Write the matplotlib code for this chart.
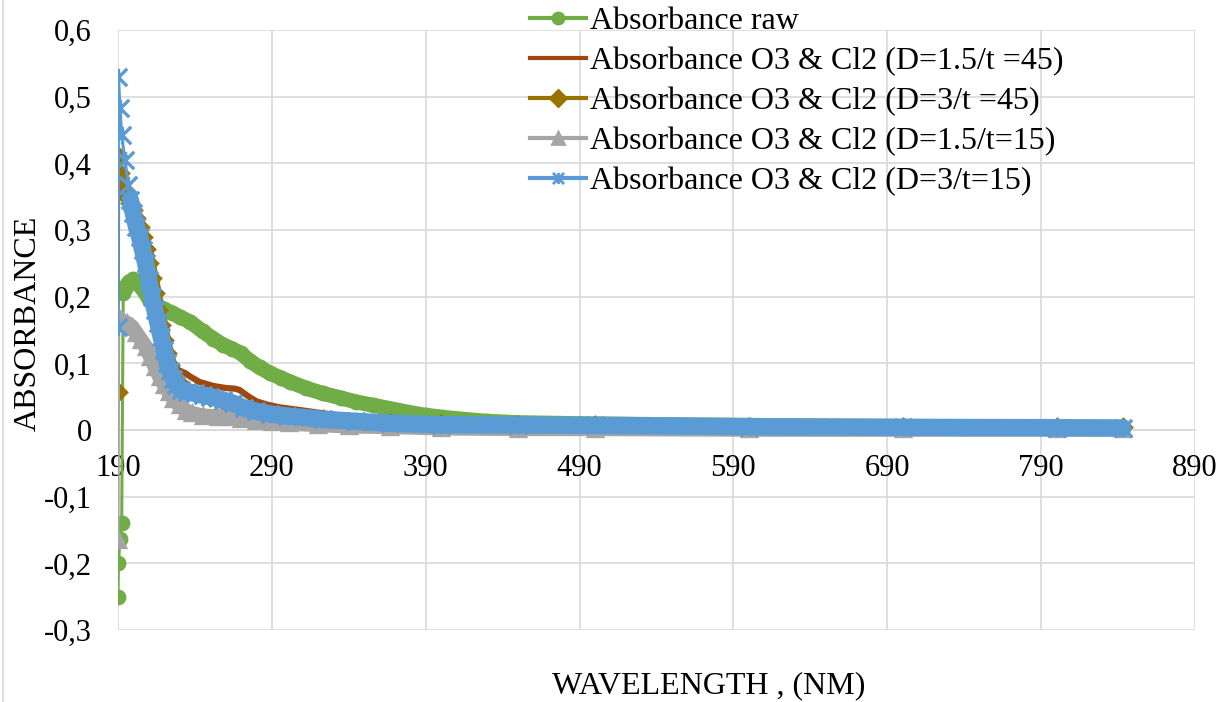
"""
  UV-Vis absorbance spectra, raw vs. O3 & Cl2 treated samples.
"""
import matplotlib
matplotlib.use("Agg")
import matplotlib.pyplot as plt
from matplotlib.lines import Line2D
from matplotlib.path import Path

# Values (wavelength in nm, absorbance)
raw_x = [190, 190.3, 191.3, 192.4, 193.4, 195, 197, 200, 205, 210, 215, 220,
         225, 230, 237, 245, 252, 258, 264, 270, 276, 282, 289, 296, 302, 312,
         323, 335, 345, 356, 367, 380, 390, 410, 430, 450, 490, 550, 600, 650,
         700, 750, 800, 843]
raw_y = [-0.25, -0.20, -0.163, -0.14, 0.205, 0.215, 0.222, 0.226, 0.215, 0.197,
         0.187, 0.181, 0.176, 0.170, 0.162, 0.148, 0.137, 0.128, 0.122, 0.115,
         0.103, 0.094, 0.085, 0.078, 0.072, 0.063, 0.055, 0.048, 0.042, 0.037,
         0.032, 0.026, 0.022, 0.017, 0.013, 0.011, 0.0095, 0.008, 0.007, 0.006,
         0.0055, 0.005, 0.0045, 0.004]

d15_t45_x = [190, 191, 193, 195, 198, 200, 203, 206, 209, 212, 215, 218, 221,
             224, 227, 230, 234, 237, 243, 252, 260, 266, 269, 275, 280, 287,
             295, 308, 320, 334, 350, 367, 400, 450, 500, 600, 700, 800, 843]
d15_t45_y = [0.36, 0.375, 0.365, 0.355, 0.34, 0.33, 0.31, 0.285, 0.255, 0.22,
             0.185, 0.15, 0.12, 0.102, 0.094, 0.089, 0.085, 0.080, 0.072, 0.066,
             0.063, 0.062, 0.060, 0.050, 0.043, 0.038, 0.034, 0.030, 0.026,
             0.022, 0.018, 0.015, 0.011, 0.009, 0.008, 0.006, 0.005, 0.004, 0.004]

d3_t45_x = [190, 190.5, 191.3, 192.3, 194, 196, 198, 200, 202, 204, 206, 208,
            210, 212, 214, 216, 218, 220, 222, 224, 226, 228, 231, 235, 240, 250,
            258, 270, 289, 323, 367, 400, 450, 500, 600, 700, 800, 843]
d3_t45_y = [0.057, 0.41, 0.385, 0.37, 0.36, 0.35, 0.34, 0.33, 0.318, 0.305,
            0.29, 0.272, 0.25, 0.228, 0.205, 0.18, 0.158, 0.135, 0.115, 0.097,
            0.085, 0.075, 0.067, 0.060, 0.056, 0.050, 0.044, 0.033, 0.024, 0.017,
            0.011, 0.009, 0.008, 0.007, 0.005, 0.0045, 0.004, 0.004]

d15_t15_x = [190, 190.5, 193, 196, 199, 202, 205, 208, 211, 214, 217, 220, 223,
             226, 230, 234, 238, 245, 255, 262, 270, 280, 290, 301, 320, 340,
             367, 400, 450, 500, 600, 700, 800, 843]
d15_t15_y = [-0.165, 0.168, 0.163, 0.16, 0.155, 0.145, 0.135, 0.125, 0.11,
             0.095, 0.08, 0.068, 0.057, 0.047, 0.037, 0.029, 0.025, 0.021, 0.020,
             0.019, 0.017, 0.014, 0.012, 0.010, 0.008, 0.006, 0.005, 0.003,
             0.002, 0.002, 0.001, 0.001, 0.001, 0.001]

d3_t15_x = [190, 190.3, 191.3, 192.4, 194.5, 196.7, 198, 200, 202, 204, 206,
            208, 210, 212, 214, 216, 218, 220, 222, 224, 226, 228, 231, 235, 240,
            245, 250, 258, 265, 272, 280, 289, 300, 323, 345, 367, 400, 450, 500,
            600, 700, 800, 843]
d3_t15_y = [0.155, 0.53, 0.483, 0.442, 0.405, 0.368, 0.345, 0.325, 0.305, 0.29,
            0.27, 0.25, 0.225, 0.20, 0.18, 0.16, 0.14, 0.12, 0.10, 0.088, 0.077,
            0.068, 0.060, 0.057, 0.055, 0.052, 0.050, 0.045, 0.040, 0.033, 0.028,
            0.024, 0.021, 0.016, 0.013, 0.010, 0.008, 0.0075, 0.007, 0.005, 0.004,
            0.0035, 0.003]

labels = ["Absorbance raw",
          "Absorbance O3 & Cl2 (D=1.5/t =45)",
          "Absorbance O3 & Cl2 (D=3/t =45)",
          "Absorbance O3 & Cl2 (D=1.5/t=15)",
          "Absorbance O3 & Cl2 (D=3/t=15)"]

x_ticks = [190, 290, 390, 490, 590, 690, 790, 890]
y_ticks = [-0.3, -0.2, -0.1, 0, 0.1, 0.2, 0.3, 0.4, 0.5, 0.6]
y_tick_labels = ["-0,3", "-0,2", "-0,1", "0", "0,1", "0,2", "0,3", "0,4",
                 "0,5", "0,6"]

plt.rcParams["font.family"] = ["Liberation Serif", "DejaVu Serif"]

# Excel-like star marker: an X with a vertical bar
star = Path([(-1, -1), (1, 1), (-1, 1), (1, -1), (0, -1), (0, 1)],
            [Path.MOVETO, Path.LINETO, Path.MOVETO, Path.LINETO,
             Path.MOVETO, Path.LINETO])

fig = plt.figure(figsize=(12.21, 7.02), dpi=100)
ax = fig.add_axes([118 / 1221, 1 - 630 / 702, 1077 / 1221, 600 / 702])

# series: data, colour, marker, marker size, band width, index where band starts
series = [
    (raw_x, raw_y, "#70AD47", "o", 9, 10.8, 4),
    (d15_t45_x, d15_t45_y, "#9E480E", None, 0, 4.5, 0),
    (d3_t45_x, d3_t45_y, "#997300", "D", 8, 10, 7),
    (d15_t15_x, d15_t15_y, "#A5A5A5", "^", 9.5, 10.8, 1),
    (d3_t15_x, d3_t15_y, "#5B9BD5", star, 12.5, 12.5, 6),
]

for i, (xs, ys, col, mk, ms, band, k) in enumerate(series):
    z = 3 + 2 * i
    # dense markers in the original merge into a thick band
    ax.plot(xs[k:], ys[k:], color=col, lw=band, solid_joinstyle="round",
            solid_capstyle="round", zorder=z)
    ax.plot(xs, ys, color=col, lw=2.2, marker=mk, ms=ms, mew=2.4,
            mec=col, mfc=col, zorder=z + 1)

ax.set_xlim(190, 890)
ax.set_ylim(-0.3, 0.6)
ax.set_xticks(x_ticks)
ax.set_yticks(y_ticks)
ax.set_yticklabels(y_tick_labels)
ax.grid(True, color="#D9D9D9", lw=1.2, zorder=0)
ax.set_axisbelow(True)
for s in ["top", "right", "left"]:
    ax.spines[s].set_visible(False)
ax.spines["bottom"].set_position(("data", 0))
ax.spines["bottom"].set_color("#D9D9D9")
ax.spines["bottom"].set_linewidth(1.2)
ax.tick_params(axis="both", length=0, labelsize=22)
ax.tick_params(axis="y", pad=19)
ax.tick_params(axis="x", pad=17)

fig.text(28 / 1221, 1 - 323 / 702, "ABSORBANCE", rotation=90, fontsize=23,
         ha="center", va="center")
fig.text(709 / 1221, 1 - 686 / 702, "WAVELENGTH , (NM)", fontsize=23,
         ha="center", va="center")

handles = [Line2D([], [], color=c, lw=3, marker=m, ms=8, mew=2, mec=c, mfc=c)
           for (_, _, c, m, _, _, _) in series]
fig.legend(handles, labels, loc="upper left",
           bbox_to_anchor=(530 / 1221, 1 - 7 / 702), frameon=False,
           fontsize=23, handlelength=1.75, handletextpad=0.12,
           labelspacing=0.33, borderpad=0, borderaxespad=0)

# chart area border on the left
fig.add_artist(Line2D([3 / 1221, 3 / 1221], [0, 1], color="#D9D9D9", lw=1.2,
                      transform=fig.transFigure))

fig.savefig("out.png", dpi=100)
